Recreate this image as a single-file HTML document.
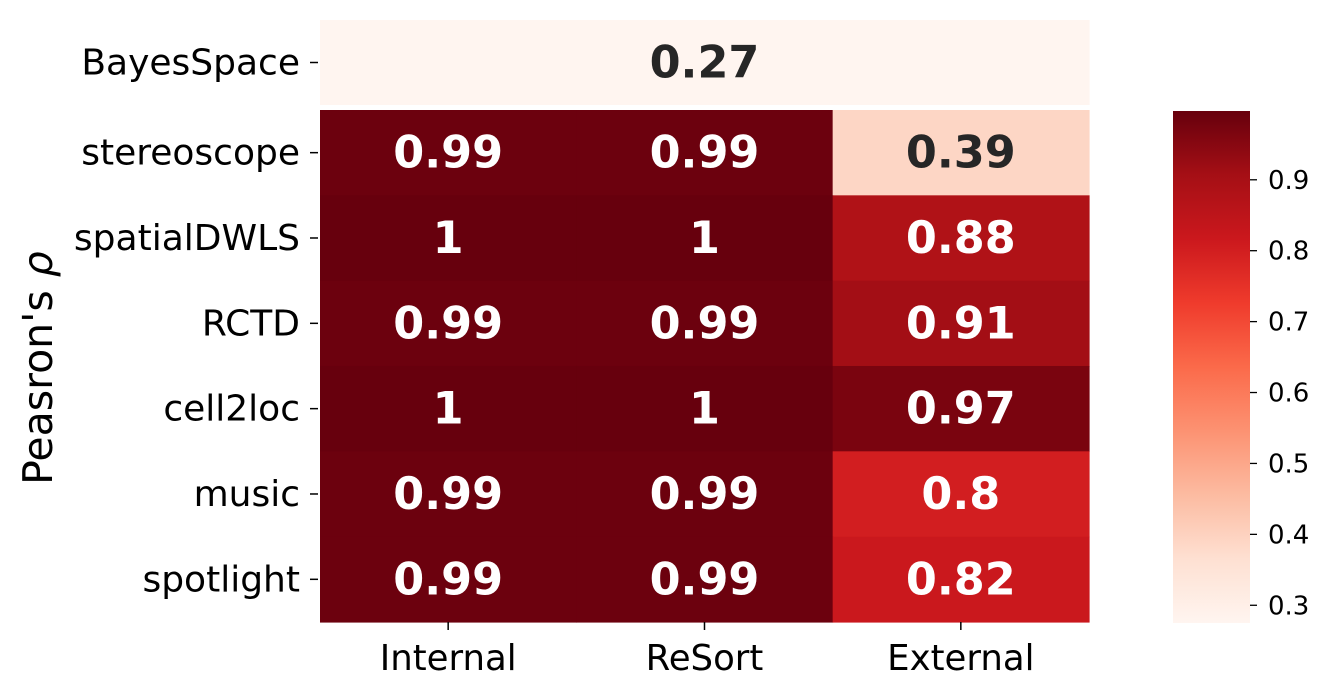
<!DOCTYPE html>
<html><head><meta charset="utf-8"><style>
body{margin:0;background:#fff;}
svg{display:block;font-family:"DejaVu Sans","Liberation Sans",sans-serif;}
</style></head><body>
<svg id="chart" width="1333" height="697" viewBox="0 0 1333 697" xmlns="http://www.w3.org/2000/svg">
<g id="cells"></g>
<g id="axes"></g>
<defs><linearGradient id="cbg" x1="0" y1="1" x2="0" y2="0"></linearGradient></defs>
<g id="cbar"></g>
<text transform="translate(52,368) rotate(-90)" text-anchor="middle" font-size="41" fill="#000">Peasron's <tspan font-style="italic">ρ</tspan></text>
</svg>
<script>
const rows = ["BayesSpace","stereoscope","spatialDWLS","RCTD","cell2loc","music","spotlight"];
const cols = ["Internal","ReSort","External"];
const values = [
 [0.27,0.27,0.27],
 [0.99,0.99,0.39],
 [1.0,1.0,0.88],
 [0.99,0.99,0.91],
 [1.0,1.0,0.97],
 [0.99,0.99,0.80],
 [0.99,0.99,0.82]
];
const labels = [
 ["","0.27",""],
 ["0.99","0.99","0.39"],
 ["1","1","0.88"],
 ["0.99","0.99","0.91"],
 ["1","1","0.97"],
 ["0.99","0.99","0.8"],
 ["0.99","0.99","0.82"]
];
const cbTicks = [0.3,0.4,0.5,0.6,0.7,0.8,0.9];
const vmin = 0.275, vmax = 0.997;

const NS="http://www.w3.org/2000/svg";
const reds=["#fff5f0","#fee0d2","#fcbba1","#fc9272","#fb6a4a","#ef3b2c","#cb181d","#a50f15","#67000d"];
function hex(h){return [1,3,5].map(i=>parseInt(h.substr(i,2),16));}
function color(v){let t=Math.max(0,Math.min(1,(v-vmin)/(vmax-vmin)))*(reds.length-1);
 let i=Math.min(Math.floor(t),reds.length-2),f=t-i;const a=hex(reds[i]),b=hex(reds[i+1]);
 return "rgb("+a.map((x,k)=>Math.round(x+(b[k]-x)*f)).join(",")+")";}
function lum(v){return (v-vmin)/(vmax-vmin);}
const x0=320,cw=256.33;
function xPos(j){return x0+j*cw;}
function yTop(i){return i===0?20:110+(i-1)*85.33;}
function rh(i){return i===0?85:85.33;}
function mk(tag,attrs,parent){const e=document.createElementNS(NS,tag);for(const k in attrs)e.setAttribute(k,attrs[k]);parent.appendChild(e);return e;}
const cells=document.getElementById('cells'),axes=document.getElementById('axes');
rows.forEach((r,i)=>{
 cols.forEach((c,j)=>{
  const rc=mk('rect',{x:xPos(j),y:yTop(i),width:cw+0.6,height:rh(i)+0.6,fill:color(values[i][j])},cells);
  
  
  if(labels[i][j]){
   const t=mk('text',{x:xPos(j)+cw/2,y:yTop(i)+rh(i)/2+15,'text-anchor':'middle','font-size':'44.5','font-weight':'bold',fill:lum(values[i][j])>0.5?'#fff':'#262626'},cells);
   t.textContent=labels[i][j];
   
   
  }
 });
 const yc=yTop(i)+rh(i)/2;
 const tk=mk('line',{x1:310,x2:318,y1:yc,y2:yc,stroke:'#000','stroke-width':1.5},axes);
 
 
 const lt=mk('text',{x:300,y:yc+12,'text-anchor':'end','font-size':'36',fill:'#000'},axes);
 lt.textContent=r;
 
 
});
mk('rect',{x:320,y:105,width:770,height:5,fill:'#fff'},cells);
cols.forEach((c,j)=>{
 const xc=xPos(j)+cw/2;
 const tk=mk('line',{x1:xc,x2:xc,y1:622,y2:630,stroke:'#000','stroke-width':1.5},axes);
 
 
 const lt=mk('text',{x:xc,y:670,'text-anchor':'middle','font-size':'35.5',fill:'#000'},axes);
 lt.textContent=c;
 
 
});
const g=document.getElementById('cbg');
reds.forEach((c,k)=>mk('stop',{offset:(k/(reds.length-1)),'stop-color':c},g));
const cb=document.getElementById('cbar');
const cbTop=111,cbBot=623;
function cbY(v){return cbBot-(v-vmin)/(vmax-vmin)*(cbBot-cbTop);}
const bar=mk('rect',{x:1173,y:cbTop,width:77,height:cbBot-cbTop,fill:'url(#cbg)'},cb);


cbTicks.forEach(v=>{
 const y=cbY(v);
 const tk=mk('line',{x1:1250,x2:1257,y1:y,y2:y,stroke:'#000','stroke-width':1.3},cb);
 
 
 const t=mk('text',{x:1268,y:y+9,'font-size':'26',fill:'#000'},cb);
 t.textContent=v.toFixed(1);
 
 
});
</script>
</body></html>
